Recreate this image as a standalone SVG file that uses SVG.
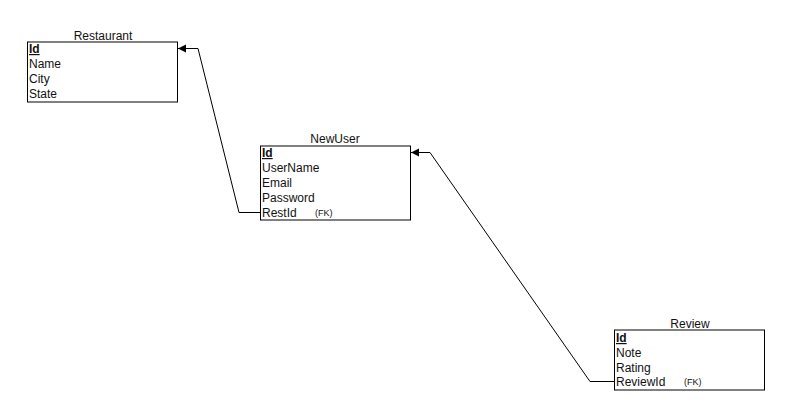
<svg xmlns="http://www.w3.org/2000/svg" width="790" height="416" viewBox="0 0 790 416">
<defs>
<style>
text{font-family:"Liberation Sans",Arial,sans-serif;font-size:12px;fill:#111}
.t{text-anchor:middle}
.pk{text-decoration:underline;font-weight:bold}
.fk{font-size:9px}
.h{stroke:#808080;stroke-width:2}
.v{stroke:#000;stroke-width:1}
.c{fill:none;stroke:#000;stroke-width:1}
</style>
<marker id="ar" markerWidth="10" markerHeight="10" refX="8" refY="4" orient="auto" markerUnits="userSpaceOnUse">
<path d="M0,0 L8,4 L0,8 Z" fill="#000"/>
</marker>
</defs>
<rect width="790" height="416" fill="#fff"/>
<g id="connectors">
<polyline class="c" points="260,212.5 239,212.5 198,48.5 178,48.5" marker-end="url(#ar)"/>
<polyline class="c" points="614,381.5 590,381.5 430,152.5 411,152.5" marker-end="url(#ar)"/>
</g>
<g id="Restaurant">
<text class="t" x="103" y="40">Restaurant</text>
<line class="h" x1="27" y1="42" x2="178" y2="42"/>
<line class="h" x1="27" y1="102" x2="178" y2="102"/>
<line class="v" x1="27.5" y1="42" x2="27.5" y2="102"/>
<line class="v" x1="177.5" y1="42" x2="177.5" y2="102"/>
<text class="pk" x="29" y="53">Id</text>
<text x="29" y="68">Name</text>
<text x="29" y="83">City</text>
<text x="29" y="98">State</text>
</g>
<g id="NewUser">
<text class="t" x="335" y="143">NewUser</text>
<line class="h" x1="260" y1="146" x2="411" y2="146"/>
<line class="h" x1="260" y1="220" x2="411" y2="220"/>
<line class="v" x1="260.5" y1="146" x2="260.5" y2="220"/>
<line class="v" x1="410.5" y1="146" x2="410.5" y2="220"/>
<text class="pk" x="262" y="157">Id</text>
<text x="262" y="172">UserName</text>
<text x="262" y="187">Email</text>
<text x="262" y="202">Password</text>
<text x="262" y="217">RestId</text>
<text class="fk" x="315" y="216">(FK)</text>
</g>
<g id="Review">
<text class="t" x="690" y="328">Review</text>
<line class="h" x1="614" y1="330" x2="765" y2="330"/>
<line class="h" x1="614" y1="390" x2="765" y2="390"/>
<line class="v" x1="614.5" y1="330" x2="614.5" y2="390"/>
<line class="v" x1="764.5" y1="330" x2="764.5" y2="390"/>
<text class="pk" x="616" y="342">Id</text>
<text x="616" y="357">Note</text>
<text x="616" y="372">Rating</text>
<text x="616" y="386">ReviewId</text>
<text class="fk" x="684" y="385">(FK)</text>
</g>
</svg>
